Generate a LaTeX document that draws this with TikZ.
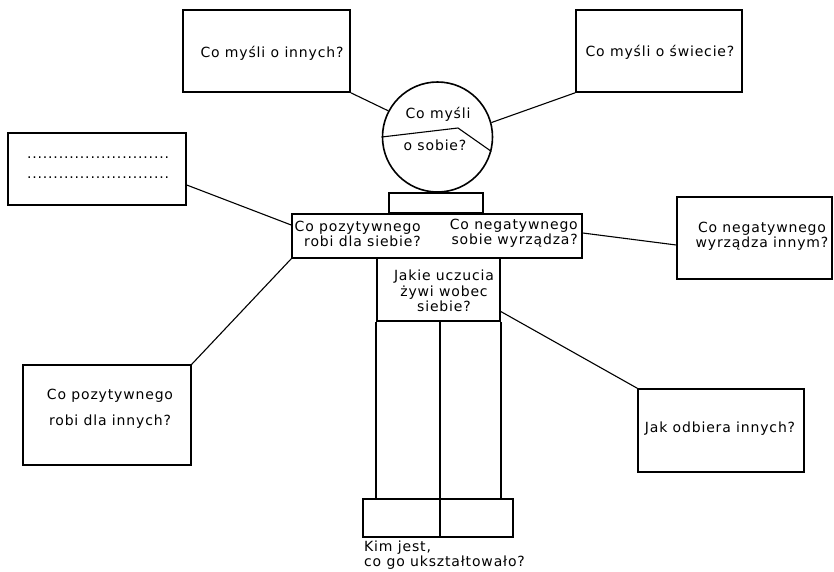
\documentclass[tikz,border=0pt]{standalone}
\usepackage{fontspec}
\setmainfont{DejaVu Sans}[LetterSpace=6]
\begin{document}
\begin{tikzpicture}[x=1pt,y=-1pt,
  txt/.style={font=\fontsize{14pt}{16pt}\selectfont, inner sep=0pt},
  qbox/.style={draw, line width=1.5pt, rectangle, inner sep=0pt, align=center,
    font=\fontsize{14pt}{16pt}\selectfont},
  part/.style={draw, line width=1.6pt, rectangle, inner sep=0pt},
  conn/.style={line width=1.1pt},
  bodyline/.style={line width=1.6pt}]
\useasboundingbox (0,0) rectangle (834,571);
% question boxes
\node[qbox, minimum width=167pt, minimum height=82pt] (innych) at (266.5,51) {};
\node[txt] (innychT) at (272,53) {Co myśli o innych?};
\node[qbox, minimum width=166pt, minimum height=82pt] (swiecie) at (659,51) {};
\node[txt] (swiecieT) at (660,52) {Co myśli o świecie?};
\node[qbox, minimum width=178pt, minimum height=72pt] (dots) at (97,169) {};
\node[txt] (dotl1) at (98,158) {...........................};
\node[txt] (dotl2) at (98,178) {...........................};
\node[qbox, minimum width=155pt, minimum height=82pt] (negInnym) at (754.5,238) {};
\node[txt] (negT1) at (762,229) {Co negatywnego};
\node[txt] (negT2) at (762,244) {wyrządza innym?};
\node[qbox, minimum width=168pt, minimum height=100pt] (pozInnych) at (107,415) {};
\node[txt] (pozT1) at (110,396) {Co pozytywnego};
\node[txt] (pozT2) at (110,422) {robi dla innych?};
\node[qbox, minimum width=166pt, minimum height=83pt] (odbiera) at (721,430.5) {};
\node[txt] (odbieraT) at (720,429) {Jak odbiera innych?};
% figure
\node[draw, line width=1.6pt, circle, minimum size=110pt, inner sep=0pt] (head) at (437.5,137) {};
\node[txt] (headT1) at (438,114) {Co myśli};
\node[txt] (headT2) at (435,145) {o sobie?};
\coordinate (kink) at (458,128);
\draw[conn] (head.180) -- (kink) -- (head.-15);
\node[part, minimum width=94pt, minimum height=20pt] (neck) at (436,203) {};
\node[part, minimum width=290pt, minimum height=44pt] (shoulders) at (437,236) {};
\node[txt, align=right, anchor=east] (shL) at (421,233.5) {Co pozytywnego\\[-1pt]robi dla siebie?};
\node[txt, align=right, anchor=east] (shR) at (578,233.5) {Co negatywnego\\[-1pt]sobie wyrządza?};
\node[part, minimum width=123pt, minimum height=63pt] (torso) at (438.5,289.5) {};
\node[txt, align=center, font=\fontsize{14pt}{15.5pt}\selectfont] (torsoT) at (444,291) {Jakie uczucia\\żywi wobec\\siebie?};
\node[part, minimum width=150pt, minimum height=38pt] (feet) at (438,518) {};
\coordinate (legtop) at (440,321);
\draw[bodyline] (torso.south west) -- (torso.south west |- feet.north);
\draw[bodyline] (torso.south east) -- (torso.south east |- feet.north);
\draw[bodyline] (legtop) -- (legtop |- feet.south);
\node[txt, align=left, anchor=north west, font=\fontsize{14pt}{15pt}\selectfont] (kim) at (364,541) {Kim jest,\\co go ukształtowało?};
% connectors
\draw[conn] (innych.south east) -- (head.152);
\draw[conn] (head.15) -- (swiecie.south west);
\draw[conn] ([yshift=-16pt]dots.east) -- ([yshift=11pt]shoulders.west);
\draw[conn] ([yshift=3pt]shoulders.east) -- ([yshift=-7pt]negInnym.west);
\draw[conn] (shoulders.south west) -- (pozInnych.north east);
\draw[conn] ([yshift=-22pt]torso.east) -- (odbiera.north west);
\end{tikzpicture}
\end{document}
